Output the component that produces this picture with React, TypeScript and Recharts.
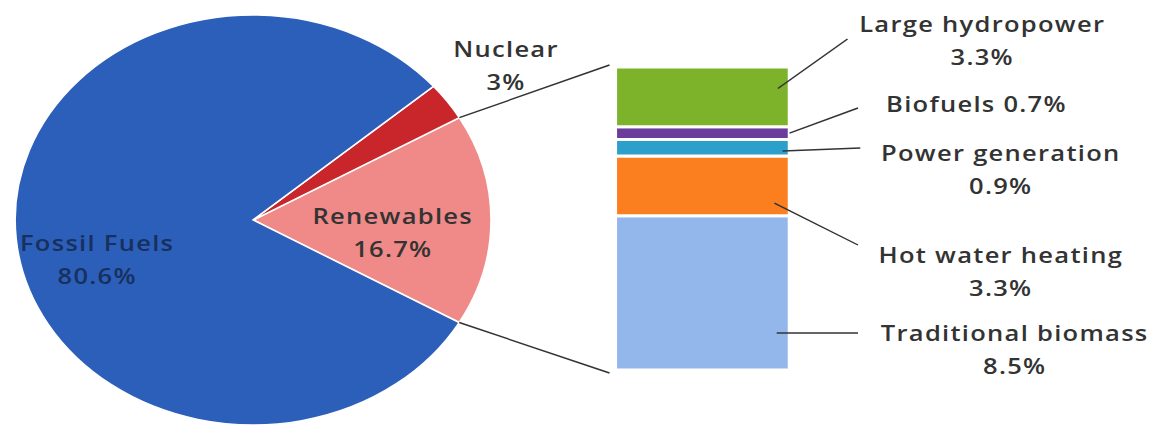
import { Bar, BarChart, Cell, Pie, PieChart, XAxis, YAxis } from 'recharts';

// pie: share of final energy consumption
const pieNames = ['Renewables', 'Nuclear', 'Fossil Fuels'];
const pieValues = [16.7, 3, 80.6];
const pieColors = ['#f08a88', '#c8262a', '#2c5fba'];

// bar: breakdown of renewables, bottom to top
const barNames = ['Traditional biomass', 'Hot water heating', 'Power generation', 'Biofuels', 'Large hydropower'];
const barValues = [8.5, 3.3, 0.9, 0.7, 3.3];
const barColors = ['#93b7ea', '#fb7e1f', '#2c9fca', '#6b3c9b', '#7cb32b'];

const W = 1000;
const H = 425;
const SX = 1.161; // the source picture is stretched horizontally
const FONT = '"Open Sans", "DejaVu Sans", sans-serif';
const FS = 22;
const LINE = 33;
const TEXT = '#333333';

const PIE_CX = 218;
const PIE_CY = 220;
const PIE_R = 205;

const BAR_LEFT = 530;
const BAR_RIGHT = 680;
const BAR_TOP = 67;
const BAR_BOTTOM = 370;

const pieLabelLayout = [
	{ r: 121, dAngle: -6, color: TEXT },
	{ r: 267, dAngle: 0, color: TEXT },
	{ r: 140, dAngle: 11, color: '#17305e' },
];

// leader start on the segment, leader end and text centre to the right of the bar
const barLabelLayout = [
	{ startDx: -11, startFrac: 0.76, endDx: 59, endY: 333, textDx: 194, textY: 333, oneLine: false },
	{ startDx: -13, startFrac: 0.79, endDx: 59, endY: 245, textDx: 182, textY: 255, oneLine: false },
	{ startDx: -6, startFrac: 0.7, endDx: 61, endY: 148, textDx: 182, textY: 153, oneLine: false },
	{ startDx: 0, startFrac: 0.5, endDx: 59, endY: 108, textDx: 161, textY: 104, oneLine: true },
	{ startDx: -10, startFrac: 0.36, endDx: 50, endY: 39, textDx: 166, textY: 24, oneLine: false },
];

const pieData = pieNames.map((name, i) => ({ name, value: pieValues[i] }));
const barRow: Record<string, number | string> = { cat: 'Renewables' };
barNames.forEach((n, i) => (barRow[n] = barValues[i]));
const barData = [barRow];
const barTotal = barValues.reduce((a, b) => a + b, 0);

const RAD = Math.PI / 180;
const polar = (cx: number, cy: number, r: number, a: number) => ({
	x: cx + r * Math.cos(-a * RAD),
	y: cy + r * Math.sin(-a * RAD),
});

function Lines({ x, y, lines, color }: { x: number; y: number; lines: string[]; color: string }) {
	return (
		<text
			x={x}
			textAnchor='middle'
			fill={color}
			fontFamily={FONT}
			fontSize={FS}
			fontWeight={600}
			letterSpacing={1.1}
		>
			{lines.map((l, i) => (
				<tspan key={i} x={x} y={y + i * LINE + FS * 0.36}>
					{l}
				</tspan>
			))}
		</text>
	);
}

const renderPieLabel = (props: any) => {
	const { cx, cy, midAngle, outerRadius, index } = props;
	const l = pieLabelLayout[index];
	const p = polar(Number(cx), Number(cy), l.r, Number(midAngle) + l.dAngle);
	const lines = [pieNames[index], `${pieValues[index]}%`];
	const top = LINE / 2;
	let connectors = null;
	if (index === 0) {
		const a = polar(Number(cx), Number(cy), Number(outerRadius), Number(props.endAngle));
		const b = polar(Number(cx), Number(cy), Number(outerRadius), Number(props.startAngle));
		connectors = (
			<g stroke='#333' strokeWidth={1.4}>
				<line x1={a.x} y1={a.y} x2={BAR_LEFT - 5} y2={BAR_TOP - 2} />
				<line x1={b.x} y1={b.y} x2={BAR_LEFT - 5} y2={BAR_BOTTOM + 3} />
			</g>
		);
	}
	return (
		<g key={`pl-${index}`}>
			{connectors}
			<Lines x={p.x} y={p.y - top} lines={lines} color={l.color} />
		</g>
	);
};

const makeBarLabel = (i: number) => (props: any) => {
	const x = Number(props.x);
	const w = Number(props.width);
	const h0 = Number(props.height);
	const top = h0 < 0 ? Number(props.y) + h0 : Number(props.y);
	const h = Math.abs(h0);
	const l = barLabelLayout[i];
	const right = x + w;
	const name = barNames[i];
	const val = `${barValues[i]}%`;
	const lines = l.oneLine ? [`${name} ${val}`] : [name, val];
	return (
		<g key={`bl-${i}`}>
			<line
				x1={right + l.startDx}
				y1={top + h * l.startFrac}
				x2={right + l.endDx}
				y2={l.endY}
				stroke='#333'
				strokeWidth={1.4}
			/>
			<Lines x={right + l.textDx} y={l.textY} lines={lines} color={TEXT} />
		</g>
	);
};

export default function App() {
	return (
		<div style={{ position: 'absolute', left: 0, top: 0, width: 1161, height: 425, overflow: 'hidden', background: '#fff' }}>
			<div style={{ position: 'relative', width: W, height: H, transform: `scaleX(${SX})`, transformOrigin: '0 0' }}>
				<div style={{ position: 'absolute', left: 0, top: 0 }}>
					<PieChart width={W} height={H} margin={{ top: 0, right: 0, bottom: 0, left: 0 }}>
						<Pie
							data={pieData}
							dataKey='value'
							nameKey='name'
							cx={PIE_CX}
							cy={PIE_CY}
							outerRadius={PIE_R}
							startAngle={-30}
							endAngle={330}
							stroke='#ffffff'
							strokeWidth={1.5}
							label={renderPieLabel}
							labelLine={false}
							isAnimationActive={false}
						>
							{pieData.map((d, i) => (
								<Cell key={d.name} fill={pieColors[i]} />
							))}
						</Pie>
					</PieChart>
				</div>
				<div style={{ position: 'absolute', left: 0, top: 0 }}>
					<BarChart
						width={W}
						height={H}
						data={barData}
						barCategoryGap={0}
						margin={{ top: BAR_TOP, bottom: H - BAR_BOTTOM, left: BAR_LEFT, right: W - BAR_RIGHT }}
					>
						<XAxis dataKey='cat' hide />
						<YAxis hide type='number' domain={[0, barTotal]} allowDataOverflow />
						{barNames.map((n, i) => (
							<Bar
								key={n}
								dataKey={n}
								stackId='r'
								fill={barColors[i]}
								stroke='#ffffff'
								strokeWidth={3}
								label={makeBarLabel(i)}
								isAnimationActive={false}
							/>
						))}
					</BarChart>
				</div>
			</div>
		</div>
	);
}
